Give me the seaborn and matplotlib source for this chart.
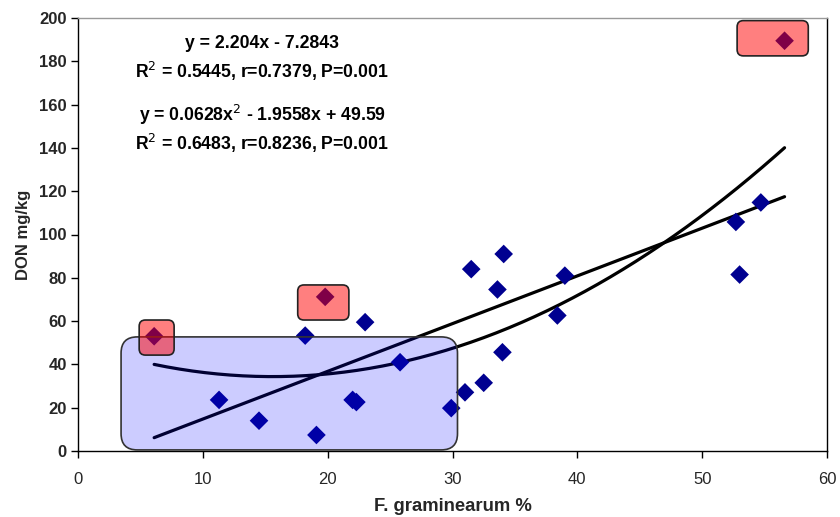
import numpy as np
import pandas as pd
import seaborn as sns
import matplotlib
matplotlib.use("Agg")
import matplotlib.pyplot as plt
from matplotlib.patches import FancyBboxPatch

# ---- data ----
fg_percent = [6.1, 11.3, 14.5, 18.2, 19.1, 19.8, 22.0, 22.3, 23.0, 25.8,
              29.9, 31.0, 31.5, 32.5, 33.6, 34.0, 34.1, 38.4, 39.0,
              52.7, 53.0, 54.7, 56.6]
don_mgkg = [53.0, 23.6, 14.0, 53.3, 7.4, 71.2, 23.6, 22.6, 59.5, 41.0,
            19.8, 27.1, 84.0, 31.5, 74.6, 45.6, 91.0, 62.6, 81.0,
            105.8, 81.5, 114.8, 189.5]

lin_coef = [2.204, -7.2843]            # y = a x + b
quad_coef = [0.0628, -1.9558, 49.59]   # y = a x^2 + b x + c
fit_range = [6.1, 56.6]

eq_lines = ["y = 2.204x - 7.2843",
            "R$^2$ = 0.5445, r=0.7379, P=0.001",
            "y = 0.0628x$^2$ - 1.9558x + 49.59",
            "R$^2$ = 0.6483, r=0.8236, P=0.001"]

x_ticks = [0, 10, 20, 30, 40, 50, 60]
y_ticks = [0, 20, 40, 60, 80, 100, 120, 140, 160, 180, 200]

# highlight boxes (x0, y0, x1, y1) in data units
blue_box = [3.45, 0.5, 30.4, 52.7]
red_boxes = [[4.9, 44.3, 7.7, 60.5],
             [17.6, 60.5, 21.7, 76.7],
             [52.8, 182.5, 58.5, 198.8]]

# ---- figure ----
sns.set_theme(style="white")
plt.rcParams["font.family"] = ["Liberation Sans", "DejaVu Sans"]

fig = plt.figure(figsize=(8.4, 5.17), dpi=100)
ax = fig.add_axes([78/840, 1-451/517, (827-78)/840, (451-18)/517])

# trendlines
xs = np.linspace(fit_range[0], fit_range[1], 200)
lin_df = pd.DataFrame({"x": xs, "y": np.polyval(lin_coef, xs)})
quad_df = pd.DataFrame({"x": xs, "y": np.polyval(quad_coef, xs)})
sns.lineplot(data=lin_df, x="x", y="y", ax=ax, color="black", linewidth=2.3, zorder=3)
sns.lineplot(data=quad_df, x="x", y="y", ax=ax, color="black", linewidth=2.3, zorder=3)

# points
pts = pd.DataFrame({"fg": fg_percent, "don": don_mgkg})
sns.scatterplot(data=pts, x="fg", y="don", ax=ax, marker="D", s=90,
                color="#000090", edgecolor="none", zorder=4)

ax.set_xlim(0, 60)
ax.set_ylim(0, 200)
ax.set_xticks(x_ticks)
ax.set_yticks(y_ticks)

aspect = (749/60) / (433/200)
bx0, by0, bx1, by1 = blue_box
ax.add_patch(FancyBboxPatch((bx0, by0), bx1-bx0, by1-by0,
                            boxstyle="round,pad=0,rounding_size=1.3",
                            mutation_aspect=aspect,
                            facecolor=(0, 0, 1, 0.2), edgecolor="#333333",
                            linewidth=1.2, zorder=5))
for rx0, ry0, rx1, ry1 in red_boxes:
    ax.add_patch(FancyBboxPatch((rx0, ry0), rx1-rx0, ry1-ry0,
                                boxstyle="round,pad=0,rounding_size=0.5",
                                mutation_aspect=aspect,
                                facecolor=(1, 0, 0, 0.5), edgecolor="#222222",
                                linewidth=1.2, zorder=6))

# equations
eq_x = (262-78) / 749
eq_y = [43, 71, 115, 143]
for txt, py in zip(eq_lines, eq_y):
    ax.text(eq_x, 1-(py-18)/433, txt, transform=ax.transAxes, ha="center",
            va="center", fontsize=12.7, fontweight="bold", color="black", zorder=7)

# axes styling
for side in ["left", "bottom", "right"]:
    ax.spines[side].set_color("black")
    ax.spines[side].set_linewidth(1.0)
ax.spines["top"].set_color("#999999")
ax.spines["top"].set_linewidth(1.0)
ax.tick_params(axis="both", which="both", direction="out", length=5,
               width=1, color="black", bottom=True, left=True)
ax.tick_params(axis="x", labelsize=12, pad=10)
ax.tick_params(axis="y", labelsize=12, pad=3)
for lab in ax.get_yticklabels():
    lab.set_fontweight("bold")

ax.set_xlabel("F. graminearum %", fontsize=13.3, fontweight="bold", labelpad=8)
ax.set_ylabel("DON mg/kg", fontsize=12, fontweight="bold", labelpad=6)
ax.grid(False)

fig.savefig("out.png", dpi=100)
